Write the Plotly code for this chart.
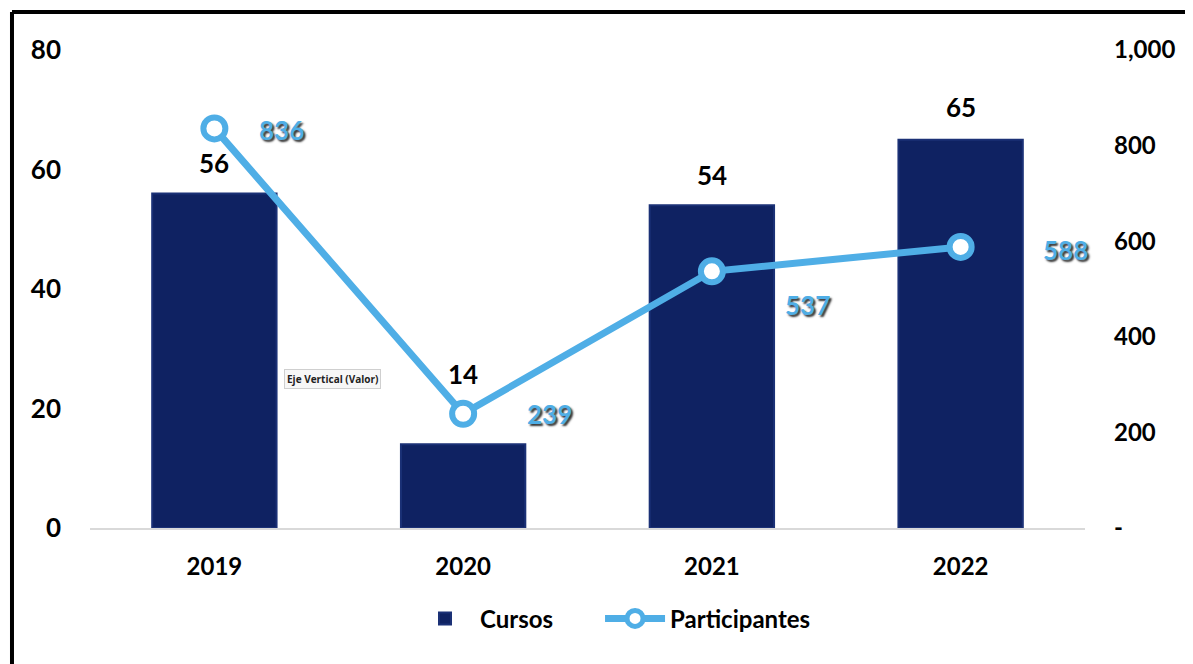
import plotly.graph_objects as go

# ---- data ----
years = ["2019", "2020", "2021", "2022"]
cursos = [56, 14, 54, 65]
participantes = [836, 239, 537, 588]
left_ticks = [0, 20, 40, 60, 80]
right_tickvals = [0, 200, 400, 600, 800, 1000]
right_ticktext = ["-", "200", "400", "600", "800", "1,000"]

# label offsets (pixels)
bar_label_yshift = [30, 70, 30, 33]
line_label_xshift = [67, 86, 96, 105]
line_label_yshift = [-2, 0, -34, -3]

FONT = "Century Gothic, Lato, sans-serif"
BAR = "#0F2262"
LINE = "#4FAEE6"

fig = go.Figure()
fig.add_trace(go.Bar(
    x=years, y=cursos, name="Cursos",
    marker=dict(color=BAR, line=dict(color="#1B3176", width=2)),
    width=0.5, yaxis="y", legend="legend",
))
fig.add_trace(go.Scatter(
    x=years, y=participantes, name="Participantes", yaxis="y2", legend="legend2",
    mode="lines+markers",
    line=dict(color=LINE, width=7),
    marker=dict(size=22, color="white", line=dict(color=LINE, width=6)),
))

ann = []
for i, (v, s) in enumerate(zip(cursos, bar_label_yshift)):
    ann.append(dict(x=i, y=v, xref="x", yref="y", text=str(v), showarrow=False,
                    yshift=s, font=dict(family=FONT, size=26, color="black", weight=700)))
for i, (v, xs, ys) in enumerate(zip(participantes, line_label_xshift, line_label_yshift)):
    ann.append(dict(x=i, y=v, xref="x", yref="y2", text=f"{v:,}", showarrow=False,
                    xshift=xs, yshift=ys,
                    font=dict(family=FONT, size=26, color=LINE, weight=700,
                              shadow="2px 2px 2px #333")))
ann.append(dict(x=0.195, y=0.291, xref="paper", yref="paper", text="Eje Vertical (Valor)",
                showarrow=False, bgcolor="#f7f7f7", bordercolor="#cfcfcf", borderwidth=1,
                borderpad=2, font=dict(family="Open Sans, sans-serif", size=10, color="#222")))

shapes = [
    dict(type="line", xref="paper", yref="paper", x0=-0.0784, x1=1.12, y0=1.0795, y1=1.0795,
         line=dict(color="black", width=4)),
    dict(type="line", xref="paper", yref="paper", x0=-0.0784, x1=-0.0784, y0=1.0795, y1=-0.3,
         line=dict(color="black", width=4)),
]

legend_font = dict(family=FONT, size=24, color="black", weight=700)

fig.update_layout(
    width=1185, height=656,
    margin=dict(l=82, r=108, t=42, b=136),
    paper_bgcolor="white", plot_bgcolor="white",
    font=dict(family=FONT, size=24, color="black", weight=700),
    showlegend=True,
    legend=dict(orientation="h", x=0.3216, xanchor="left", y=-0.19, yanchor="middle",
                itemwidth=60, font=legend_font),
    legend2=dict(orientation="h", x=0.5126, xanchor="left", y=-0.19, yanchor="middle",
                 itemwidth=60, font=legend_font),
    xaxis=dict(type="category", range=[-0.5, 3.5], autorange=False, showgrid=False,
               showline=True, linecolor="#d9d9d9", linewidth=2, ticks="",
               ticklabelstandoff=16,
               tickfont=dict(family=FONT, size=24, color="black", weight=700)),
    yaxis=dict(range=[0, 80], tickvals=left_ticks, showgrid=False, zeroline=False,
               showline=False, ticks="", ticklabelstandoff=28,
               tickfont=dict(family=FONT, size=26, color="black", weight=700)),
    yaxis2=dict(range=[0, 1000], tickvals=right_tickvals, ticktext=right_ticktext,
                overlaying="y", side="right", showgrid=False, zeroline=False,
                showline=False, ticks="", ticklabelstandoff=28,
                tickfont=dict(family=FONT, size=24, color="black", weight=700)),
    annotations=ann,
    shapes=shapes,
)

fig.write_html("out.html")
